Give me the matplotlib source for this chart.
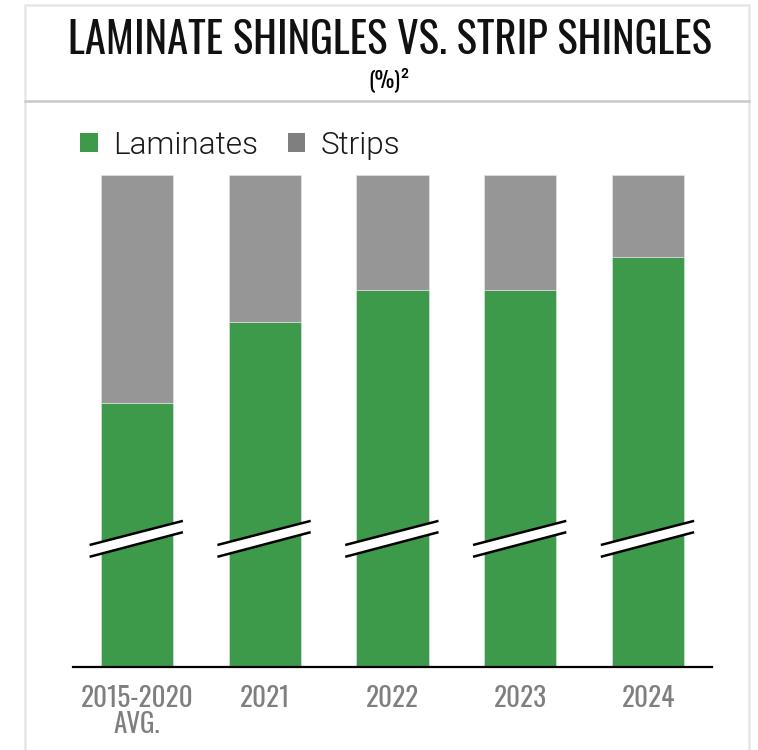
import numpy as np
import matplotlib
matplotlib.use("Agg")
import matplotlib.pyplot as plt
from matplotlib.patches import Patch, Rectangle, Polygon
from matplotlib.lines import Line2D

# data (share of shipments, %, as drawn above the axis break)
categories = ["2015-2020\nAVG.", "2021", "2022", "2023", "2024"]
laminates = [53.7, 70.1, 76.6, 76.6, 83.3]
strips = [100 - v for v in laminates]

green = "#3d9a4a"
grey = "#969696"
grey_leg = "#7f7f7f"
narrow = ["Oswald", "DejaVu Sans"]

fig = plt.figure(figsize=(7.58, 7.50), dpi=100)
W, H = 758, 750

# outer card + header rule
fig.patches.append(Rectangle((25 / W, -0.01), 724 / W, 1.01 - 5 / H, transform=fig.transFigure,
                             fill=False, edgecolor="#e6e6e6", linewidth=1.8))
fig.add_artist(Line2D([25 / W, 749 / W], [1 - 101 / H] * 2, transform=fig.transFigure,
                      color="#c8c8c8", linewidth=1.8))

fig.text(0.514, 1 - 40 / H, "LAMINATE SHINGLES VS. STRIP SHINGLES", family=narrow,
         fontsize=30.7, ha="center", va="center", color="#111111")
fig.text(0.514, 1 - 80 / H, "(%)²", family=narrow, fontsize=16, ha="center", va="center")

ax = fig.add_axes([73 / W, 1 - 667 / H, (712 - 73) / W, (667 - 175) / H])
x = np.arange(len(categories))
bw = 0.565
ax.bar(x, laminates, width=bw, color=green, edgecolor="#e8e8e8", linewidth=0.4, zorder=2)
ax.bar(x, strips, bottom=laminates, width=bw, color=grey, edgecolor="#e8e8e8", linewidth=0.4, zorder=2)

# axis-break marks on each bar
for xi in x:
    xs = np.array([xi - 0.37, xi + 0.36])
    upper = np.array([24.8, 29.7])
    lower = np.array([22.4, 27.4])
    ax.add_patch(Polygon([[xs[0], lower[0]], [xs[1], lower[1]], [xs[1], upper[1]], [xs[0], upper[0]]],
                         closed=True, facecolor="white", edgecolor="none", zorder=3, clip_on=False))
    ax.plot(xs, upper, color="black", linewidth=1.8, zorder=4, solid_capstyle="butt")
    ax.plot(xs, lower, color="black", linewidth=1.8, zorder=4, solid_capstyle="butt")

ax.set_xlim(-0.5, len(categories) - 0.5)
ax.set_ylim(0, 100)
ax.set_yticks([])
ax.set_xticks(x)
ax.set_xticklabels(categories, family=narrow, fontsize=19.5, color="#7f7f7f", linespacing=0.95, va="top")
ax.tick_params(axis="x", length=0, pad=13)
for s in ["top", "left", "right"]:
    ax.spines[s].set_visible(False)
ax.spines["bottom"].set_linewidth(1.6)
ax.spines["bottom"].set_color("black")
ax.spines["bottom"].set_zorder(5)

handles = [Patch(facecolor=green, label="Laminates"), Patch(facecolor=grey_leg, label="Strips")]
leg = fig.legend(handles=handles, loc="center left", bbox_to_anchor=(80 / W, 1 - 145 / H),
                 ncol=2, frameon=False, fontsize=22.7, handlelength=0.56, handleheight=0.56,
                 handletextpad=0.48, columnspacing=0.95, borderpad=0, borderaxespad=0)
for t in leg.get_texts():
    t.set_family(["Roboto", "DejaVu Sans"])
    t.set_fontweight(300)
    t.set_color("#1a1a1a")

fig.savefig("out.png", dpi=100)
